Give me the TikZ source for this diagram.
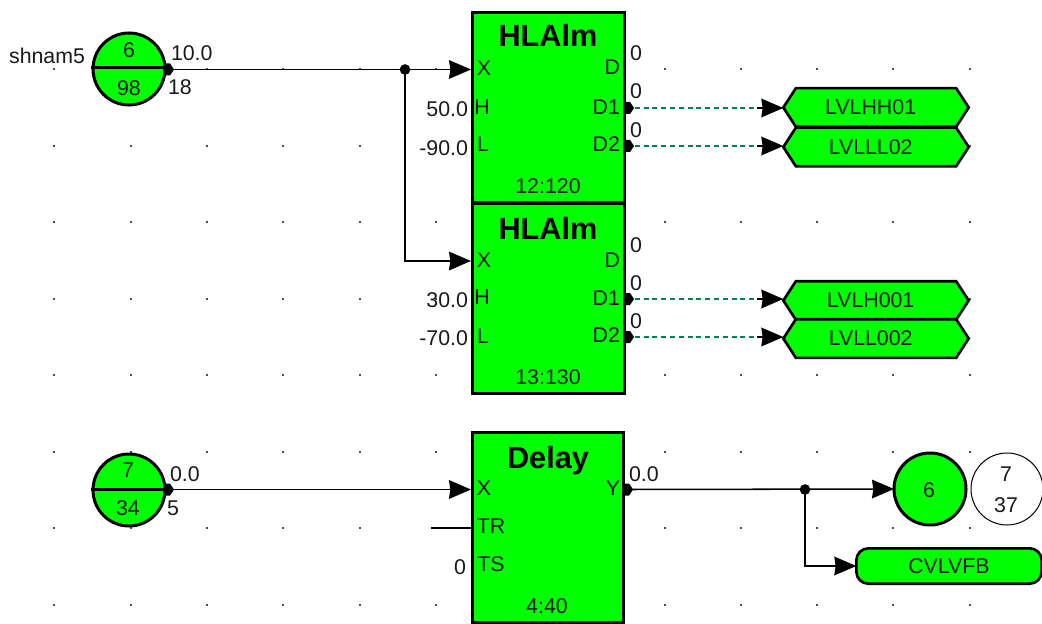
\documentclass[tikz,border=0pt]{standalone}
\usepackage{fontspec}
\setmainfont{Liberation Sans}
\usetikzlibrary{arrows.meta,shapes.symbols}
\definecolor{blockgreen}{RGB}{0,255,0}
\definecolor{dashgreen}{RGB}{0,128,80}
\definecolor{inkgrey}{RGB}{25,25,25}
\newcommand{\hexlabel}[1]{#1\kern 8pt}
\tikzset{
  txt/.style={inner sep=0pt,outer sep=0pt,text height=11.4pt,text depth=0pt,text=inkgrey,font=\fontsize{16}{16}\selectfont},
  ttl/.style={inner sep=0pt,outer sep=0pt,text height=16.5pt,text depth=0pt,font=\fontsize{23}{23}\selectfont\bfseries},
  blockbox/.style={draw=black,line width=2.25pt,fill=blockgreen,minimum width=113.5pt,minimum height=142.5pt,inner sep=0pt,outer sep=0pt},
  roundbox/.style={circle,draw=black,line width=2.25pt,fill=blockgreen,minimum size=54pt,inner sep=0pt,outer sep=0pt},
  whitebox/.style={circle,draw=black,line width=0.75pt,fill=white,minimum size=54pt,inner sep=0pt,outer sep=0pt},
  hexbox/.style={signal,signal to=east and west,signal pointer angle=114,draw=black,line width=2pt,fill=blockgreen,minimum width=139pt,minimum height=29pt,inner sep=0pt,outer sep=0pt,text=inkgrey,font=\fontsize{16}{16}\selectfont},
  capbox/.style={rectangle,rounded corners=9pt,draw=black,line width=2pt,fill=blockgreen,minimum width=139pt,minimum height=26.5pt,inner sep=0pt,outer sep=0pt,text=inkgrey,font=\fontsize{16}{16}\selectfont},
  wire/.style={draw=black,line width=1.15pt},
  flow/.style={wire,-{Stealth[length=16.5pt,width=14pt,inset=1pt]}},
  dashflow/.style={draw=dashgreen,line width=1pt,dash pattern=on 3.8pt off 2.8pt},
  tiponly/.style={draw=black,line width=1.15pt,-{Stealth[length=16.5pt,width=14pt,inset=1pt]}},
  junct/.style={circle,fill=black,draw=none,minimum size=8pt,inner sep=0pt,outer sep=0pt},
  portdot/.style={fill=black,draw=none},
  griddot/.style={fill=black!70,draw=none}
}
\begin{document}
\begin{tikzpicture}[x=0.75pt,y=-0.75pt]
\useasboundingbox (0,0) rectangle (1042,624);
\clip (0,0) rectangle (1042,624);
% grid
\foreach \gy in {69,146,222,299,375,452,528,605}
  \foreach \gx in {54,131,207,283,360,436,665,741,817,893,970}
    \fill[griddot] (\gx-0.8,\gy-0.8) rectangle (\gx+0.8,\gy+0.8);

% blocks
\node[blockbox] (b1) at (548.5,107.5) {};
\node[blockbox] (b2) at (548.5,298.5) {};
\node[blockbox] (b3) at (548,527.5) {};
% circles
\node[whitebox] (w1) at (1007,489) {};
\node[roundbox] (c1) at (129,69) {};
\node[roundbox] (c2) at (129,490) {};
\node[roundbox] (c3) at (930,489) {};
% targets
\node[hexbox] (h1) at (876,107.5) {\hexlabel{LVLHH01}};
\node[hexbox] (h2) at (876,147) {\hexlabel{LVLLL02}};
\node[hexbox] (h3) at (876,300.5) {\hexlabel{LVLH001}};
\node[hexbox] (h4) at (876,338.5) {\hexlabel{LVLL002}};
\node[capbox] (cv) at (949,566) {CVLVFB};

% dividers in the source circles
\draw[black,line width=2.25pt] (c1.west) ++(-2,-1) coordinate (c1l) -- ++(76,0) coordinate (c1r);
\draw[black,line width=2.25pt] (c2.west) ++(-2,-1) coordinate (c2l) -- ++(76,0) coordinate (c2r);

% port points
\coordinate (c1out) at (166,69.5);
\coordinate (c2out) at (166,489.5);
\coordinate (j1) at (405,69.5);
\coordinate (j2) at (805,489.5);
\coordinate (b1x) at (471,69.5);
\coordinate (b2x) at (471,261);
\coordinate (b3x) at (471,489.5);
\coordinate (b3y) at (625,489.5);
\coordinate (b3tr) at (472,528);
\coordinate (trfree) at (431,528);
\coordinate (b1d1) at (626,108);
\coordinate (b1d2) at (626,146);
\coordinate (b2d1) at (626,299);
\coordinate (b2d2) at (626,337);

% solid connectors
\draw[flow] (c1out) -- (b1x);
\draw[flow] (j1) |- (b2x);
\draw[flow] (c2out) -- (b3x);
\draw[flow] (b3y) -- (c3.west);
\draw[flow] (j2) |- (cv.west);
\draw[wire] (trfree) -- (b3tr);

% dashed connectors with solid tips
\foreach \p/\q in {b1d1/h1,b1d2/h2,b2d1/h3,b2d2/h4}{
  \draw[dashflow] (\p) -- (\p -| \q.west);
  \path[tiponly] (\p -| \q.west) ++(-26,0) -- (\p -| \q.west);
}

% junctions
\node[junct] at (j1) {};
\node[junct] at (j2) {};

% output stubs
\foreach \a in {c1out,c2out,b3y,b1d1,b1d2,b2d1,b2d2}
  \fill[portdot] (\a) ++(-1,-6) -- ++(5,0) -- ++(4,6) -- ++(-4,6) -- ++(-5,0) -- cycle;

% circle text
\node[txt] at (129,50) {6};
\node[txt] at (129,88) {98};
\node[txt] at (128,470) {7};
\node[txt] at (128,508) {34};
\node[txt] at (929,490) {6};
\node[txt] at (1006,474) {7};
\node[txt] at (1006,505) {37};
\node[txt,anchor=east] at (85,56) {shnam5};
\node[txt,anchor=west] at (171,53) {10.0};
\node[txt,anchor=west] at (168,87) {18};
\node[txt,anchor=west] at (170,474) {0.0};
\node[txt,anchor=west] at (167,508) {5};

% block 1
\node[ttl] at (548,36) {HLAlm};
\node[txt] at (484,68) {X};
\node[txt] at (482,107) {H};
\node[txt] at (483,144) {L};
\node[txt,anchor=east] at (620,67) {D};
\node[txt,anchor=east] at (620,107) {D1};
\node[txt,anchor=east] at (620,144) {D2};
\node[txt] at (636,53) {0};
\node[txt] at (636,91) {0};
\node[txt] at (636,130) {0};
\node[txt] at (548,186) {12:120};
\node[txt,anchor=east] at (468,109) {50.0};
\node[txt,anchor=east] at (468,148) {-90.0};
% block 2
\node[ttl] at (548,228) {HLAlm};
\node[txt] at (484,260) {X};
\node[txt] at (482,297) {H};
\node[txt] at (483,336) {L};
\node[txt,anchor=east] at (620,260) {D};
\node[txt,anchor=east] at (620,298) {D1};
\node[txt,anchor=east] at (620,335) {D2};
\node[txt] at (636,245) {0};
\node[txt] at (636,283) {0};
\node[txt] at (636,321) {0};
\node[txt] at (548,377) {13:130};
\node[txt,anchor=east] at (468,300) {30.0};
\node[txt,anchor=east] at (468,338) {-70.0};
% block 3
\node[ttl] at (548,457) {Delay};
\node[txt] at (484,488) {X};
\node[txt] at (491,526) {TR};
\node[txt] at (491,564) {TS};
\node[txt,anchor=east] at (620,488) {Y};
\node[txt,anchor=west] at (629,474) {0.0};
\node[txt] at (547,606) {4:40};
\node[txt] at (460,567) {0};
\end{tikzpicture}
\end{document}
